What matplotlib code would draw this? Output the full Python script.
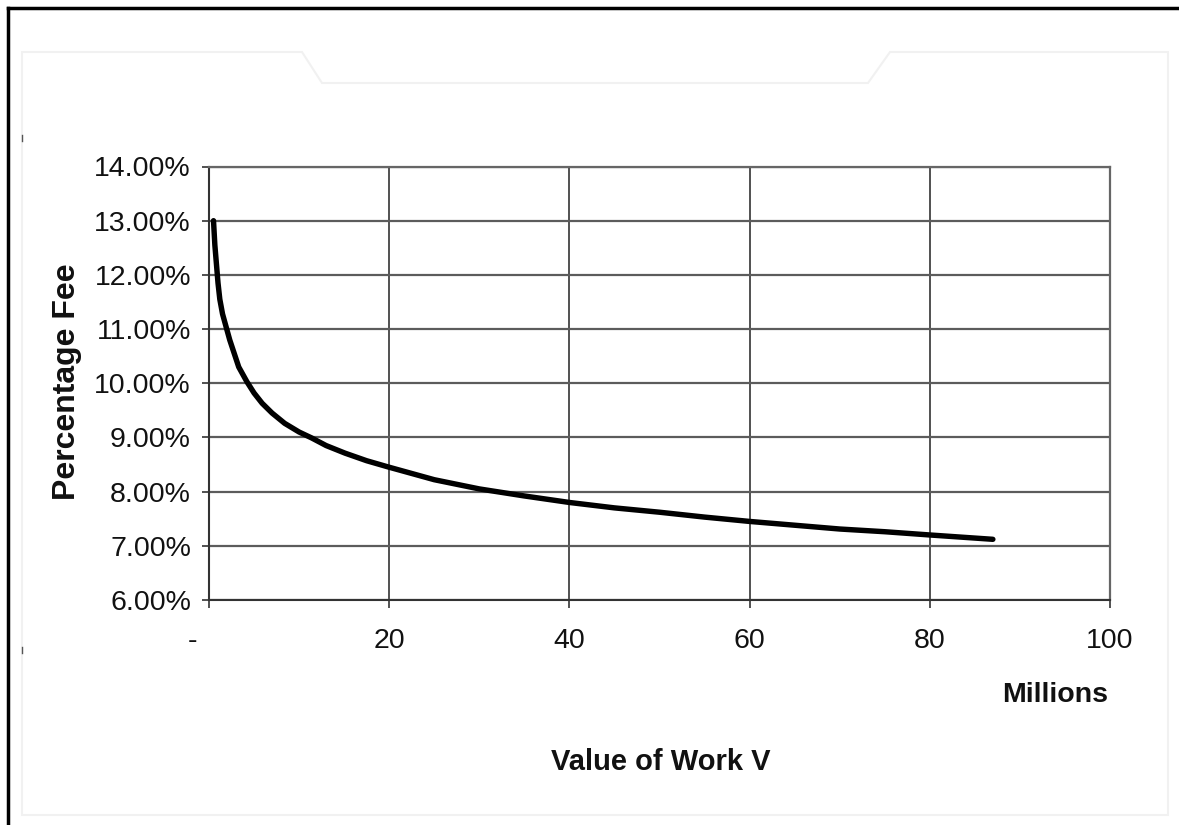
import matplotlib
matplotlib.use('Agg')

import numpy as np
import matplotlib.pyplot as plt
from matplotlib.lines import Line2D
from matplotlib.patches import Polygon
from matplotlib.ticker import FuncFormatter

plt.rcParams['font.family'] = ['Liberation Sans', 'DejaVu Sans']

# value of work (millions) and percentage fee
value_m = [0.5, 0.65, 0.85, 1.0, 1.2, 1.5, 2.0, 2.3, 2.7, 3.3, 4.2, 5.0, 5.9,
           7.0, 8.4, 10.0, 11.4, 13.0, 15.1, 17.5, 20, 25, 30, 35, 40, 45, 50,
           55, 60, 65, 70, 75, 80, 87]
fee_pct = [13.0, 12.55, 12.15, 11.85, 11.55, 11.28, 10.98, 10.8, 10.6, 10.3,
           10.03, 9.82, 9.63, 9.45, 9.26, 9.1, 8.99, 8.85, 8.71, 8.57, 8.45,
           8.22, 8.05, 7.92, 7.80, 7.70, 7.62, 7.53, 7.45, 7.38, 7.31, 7.26,
           7.20, 7.12]

x_ticks = [0, 20, 40, 60, 80, 100]
x_labels = ['-    ', '20', '40', '60', '80', '100']
y_ticks = [6, 7, 8, 9, 10, 11, 12, 13, 14]

W, H = 1179, 825
fig = plt.figure(figsize=(W / 100, H / 100), dpi=100)
fig.patch.set_facecolor('white')


def fx(px):
    return px / W


def fy(py):
    return 1 - py / H


# faint chart-area outline with the tab notch at the top
outline = [(22, 815), (22, 52), (302, 52), (322, 83), (868, 83), (890, 52),
           (1168, 52), (1168, 815)]
fig.patches.append(Polygon([(fx(a), fy(b)) for a, b in outline], closed=True,
                           facecolor='none', edgecolor='#f1f1f1', lw=1.5,
                           transform=fig.transFigure))

# black border on left and top (cropped image)
fig.add_artist(Line2D([fx(8), fx(8)], [0, fy(8)], color='black', lw=2.5,
                      transform=fig.transFigure))
fig.add_artist(Line2D([fx(8), 1], [fy(8), fy(8)], color='black', lw=2.5,
                      transform=fig.transFigure))
# small stray marks
for yy in (138, 650):
    fig.add_artist(Line2D([fx(22), fx(22)], [fy(yy - 3), fy(yy + 3)],
                          color='#555555', lw=1, transform=fig.transFigure))

ax = fig.add_axes([209 / W, 1 - 600 / H, 901 / W, 433.5 / H])
ax.set_facecolor('white')

ax.plot(value_m, fee_pct, color='black', lw=3.9, solid_capstyle='round',
        solid_joinstyle='round', zorder=5)

ax.set_xlim(0, 100)
ax.set_ylim(6, 14)
ax.set_xticks(x_ticks)
ax.set_xticklabels(x_labels)
ax.set_yticks(y_ticks)
ax.yaxis.set_major_formatter(FuncFormatter(lambda v, p: f'{v:.2f}%'))

ax.yaxis.grid(True, color='#5c5c5c', lw=1.6)
ax.xaxis.grid(True, color='#333333', lw=1.2)
ax.set_axisbelow(True)

for side in ('left', 'bottom'):
    ax.spines[side].set_color('#333333')
    ax.spines[side].set_linewidth(1.5)
for side in ('top', 'right'):
    ax.spines[side].set_color('#666666')
    ax.spines[side].set_linewidth(1.6)

ax.tick_params(axis='y', direction='out', length=5, width=1.2, color='#333333',
               pad=8, labelsize=20.5, labelcolor='#111111')
ax.tick_params(axis='x', direction='out', length=6, width=1.2, color='#333333',
               pad=14, labelsize=20.5, labelcolor='#111111')

fig.text(fx(67), fy(382), 'Percentage Fee', rotation=90, ha='center',
         va='center', fontsize=23, fontweight='bold', color='#111111')
fig.text(fx(1055), fy(695), 'Millions', ha='center', va='center', fontsize=20.5,
         fontweight='bold', color='#111111')
fig.text(fx(661), fy(762), 'Value of Work V', ha='center', va='center',
         fontsize=21, fontweight='bold', color='#111111')

fig.savefig('out.png', dpi=100)
